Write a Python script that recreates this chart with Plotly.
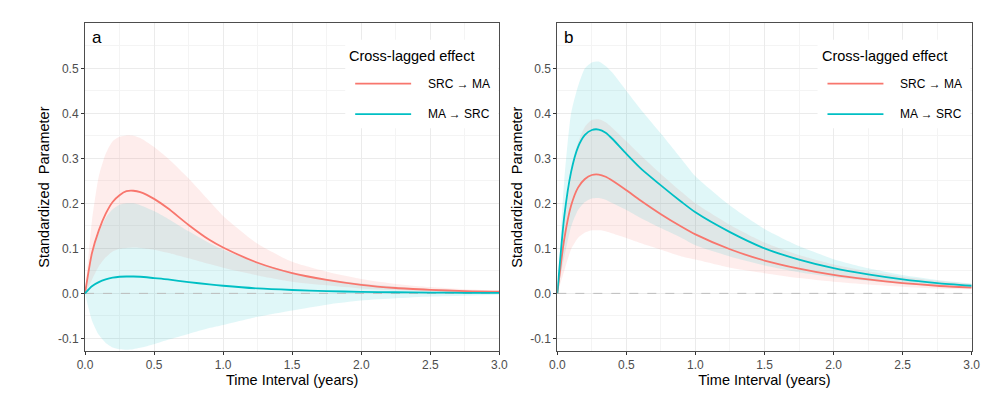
import plotly.graph_objects as go

# ---------------- data ----------------
t = [0, 0.05, 0.1, 0.15, 0.2, 0.25, 0.3, 0.35, 0.4, 0.5, 0.6, 0.75, 0.9, 1.0,
     1.25, 1.5, 1.75, 2.0, 2.25, 2.5, 2.75, 3.0]

# Panel a
a_src_ma = [0, .089, .14, .177, .203, .218, .227, .228, .225, .21, .189, .152, .119, .102,
            .068, .045, .03, .019, .012, .008, .005, .004]
a_src_ma_hi = [0, .16, .26, .31, .338, .348, .351, .35, .345, .325, .3, .255, .205, .172,
               .11, .07, .048, .032, .021, .014, .009, .006]
a_src_ma_lo = [0, .03, .06, .08, .093, .099, .101, .102, .101, .097, .09, .078, .065, .057,
               .04, .026, .018, .011, .007, .004, .003, .002]
a_ma_src = [0, .016, .025, .031, .035, .037, .0375, .0375, .037, .034, .031, .025, .02, .017,
            .011, .0075, .005, .0035, .0025, .0018, .0012, .001]
a_ma_src_hi = [0, .085, .135, .168, .187, .197, .2, .2, .196, .183, .166, .138, .112, .097,
               .068, .047, .032, .022, .015, .01, .007, .005]
a_ma_src_lo = [0, -.06, -.092, -.11, -.12, -.124, -.125, -.124, -.121, -.113, -.103, -.09, -.077, -.07,
               -.052, -.038, -.025, -.016, -.011, -.007, -.005, -.003]

# Panel b
b_src_ma = [0, .12, .195, .235, .254, .263, .264, .259, .25, .229, .207, .176, .148, .131,
            .098, .073, .055, .041, .031, .023, .017, .013]
b_src_ma_hi = [0, .17, .28, .335, .37, .385, .387, .38, .367, .338, .308, .265, .225, .2,
               .152, .113, .085, .064, .049, .037, .028, .021]
b_src_ma_lo = [0, .05, .098, .123, .135, .14, .14, .138, .133, .123, .112, .097, .082, .075,
               .057, .045, .034, .026, .02, .015, .011, .009]
b_ma_src = [0, .17, .27, .325, .352, .363, .364, .357, .343, .31, .279, .24, .203, .18,
            .136, .1, .075, .056, .042, .031, .023, .017]
b_ma_src_hi = [0, .25, .4, .46, .5, .513, .515, .505, .49, .45, .41, .355, .298, .26,
               .195, .143, .105, .076, .056, .041, .03, .022]
b_ma_src_lo = [0, .08, .148, .185, .203, .211, .212, .208, .2, .185, .168, .145, .123, .107,
               .082, .062, .047, .036, .028, .021, .016, .012]

series_names = ["SRC \u2192 MA", "MA \u2192 SRC"]
panel_labels = ["a", "b"]
x_ticks = [0, 0.5, 1.0, 1.5, 2.0, 2.5, 3.0]
y_ticks = [-0.1, 0.0, 0.1, 0.2, 0.3, 0.4, 0.5]

RED = "#F8766D"
CYAN = "#00BFC4"
RED_FILL = "rgba(248,118,109,0.13)"
CYAN_FILL = "rgba(0,191,196,0.12)"

panels = [
    dict(line=[a_src_ma, a_ma_src], hi=[a_src_ma_hi, a_ma_src_hi], lo=[a_src_ma_lo, a_ma_src_lo]),
    dict(line=[b_src_ma, b_ma_src], hi=[b_src_ma_hi, b_ma_src_hi], lo=[b_src_ma_lo, b_ma_src_lo]),
]
colors = [RED, CYAN]
fills = [RED_FILL, CYAN_FILL]

# page has an 8px body margin; the figure is sized/offset to compensate
OFF = 8
W, H = 975, 382
px_left = [85 - OFF, 557.3 - OFF]
px_w = 414.4
px_top, px_bot = 23.3 - OFF, 351 - OFF
SMOOTH = 0.6

fig = go.Figure()

for pi, p in enumerate(panels):
    xa = "x" if pi == 0 else "x2"
    ya = "y" if pi == 0 else "y2"
    for si in range(2):
        fig.add_trace(go.Scatter(x=t, y=p["lo"][si], mode="lines",
                                 line=dict(width=0, color=colors[si], shape="spline", smoothing=SMOOTH),
                                 hoverinfo="skip", showlegend=False, xaxis=xa, yaxis=ya))
        fig.add_trace(go.Scatter(x=t, y=p["hi"][si], mode="lines",
                                 line=dict(width=0, color=colors[si], shape="spline", smoothing=SMOOTH),
                                 fill="tonexty", fillcolor=fills[si], hoverinfo="skip",
                                 showlegend=False, xaxis=xa, yaxis=ya))
    # dashed zero reference line
    fig.add_trace(go.Scatter(x=[0, 3], y=[0, 0], mode="lines",
                             line=dict(color="#BDBDBD", width=1, dash="dash"),
                             hoverinfo="skip", showlegend=False, xaxis=xa, yaxis=ya))
    for si in range(2):
        fig.add_trace(go.Scatter(x=t, y=p["line"][si], mode="lines", name=series_names[si],
                                 line=dict(width=1.8, color=colors[si], shape="spline", smoothing=SMOOTH),
                                 showlegend=False, xaxis=xa, yaxis=ya))

axis_common = dict(
    showgrid=True, gridcolor="#EBEBEB", gridwidth=1, automargin=False,
    zeroline=False, showline=True, linecolor="#4D4D4D", linewidth=1, mirror=True,
    ticks="outside", ticklen=3, tickcolor="#333333", tickwidth=1,
    tickfont=dict(family="Liberation Sans, Arial", size=12, color="#4D4D4D"),
)

layout = dict(
    width=W, height=H, margin=dict(l=0, r=0, t=0, b=0, autoexpand=False),
    paper_bgcolor="white", plot_bgcolor="white", showlegend=False,
    font=dict(family="Liberation Sans, Arial", color="black"),
)

for pi in range(2):
    sfx = "" if pi == 0 else "2"
    x0 = px_left[pi] / W
    x1 = (px_left[pi] + px_w) / W
    layout["xaxis" + sfx] = dict(
        axis_common, domain=[x0, x1], range=[0, 3], tickvals=x_ticks,
        ticktext=["%.1f" % v for v in x_ticks],
        minor=dict(dtick=0.25, tick0=0, showgrid=True, gridcolor="#F4F4F4", gridwidth=1),
        anchor="y" + sfx,
        title=dict(text="Time Interval (years)", font=dict(size=14.5, color="black"), standoff=2),
    )
    layout["yaxis" + sfx] = dict(
        axis_common, domain=[1 - px_bot / H, 1 - px_top / H], range=[-0.128, 0.6],
        tickvals=y_ticks, ticktext=["%.1f" % v for v in y_ticks],
        minor=dict(dtick=0.05, tick0=0, showgrid=True, gridcolor="#F4F4F4", gridwidth=1),
        anchor="x" + sfx,
        title=dict(text="Standardized  Parameter", font=dict(size=14.5, color="black"), standoff=4),
    )

fig.update_layout(**layout)

shapes = []
annotations = []
for pi in range(2):
    sfx = "" if pi == 0 else "2"
    xd = "x" + sfx + " domain"
    yd = "y" + sfx + " domain"
    # legend box
    shapes.append(dict(type="rect", xref=xd, yref=yd, x0=0.628, x1=0.997, y0=0.68, y1=0.95,
                       fillcolor="white", line=dict(width=0), layer="above"))
    for si, yy in enumerate([0.816, 0.723]):
        shapes.append(dict(type="line", xref=xd, yref=yd, x0=0.652, x1=0.787, y0=yy, y1=yy,
                           line=dict(color=colors[si], width=1.8), layer="above"))
        annotations.append(dict(xref=xd, yref=yd, x=0.822, y=yy, text=series_names[si],
                                showarrow=False, xanchor="left", yanchor="middle",
                                font=dict(size=12, color="black")))
    annotations.append(dict(xref=xd, yref=yd, x=0.633, y=0.901, text="Cross-lagged effect",
                            showarrow=False, xanchor="left", yanchor="middle",
                            font=dict(size=14.5, color="black")))
    annotations.append(dict(xref=xd, yref=yd, x=0.012, y=0.956, text=panel_labels[pi],
                            showarrow=False, xanchor="left", yanchor="middle",
                            font=dict(size=17, color="black")))

fig.update_layout(shapes=shapes, annotations=annotations)
fig.write_html("out.html")
